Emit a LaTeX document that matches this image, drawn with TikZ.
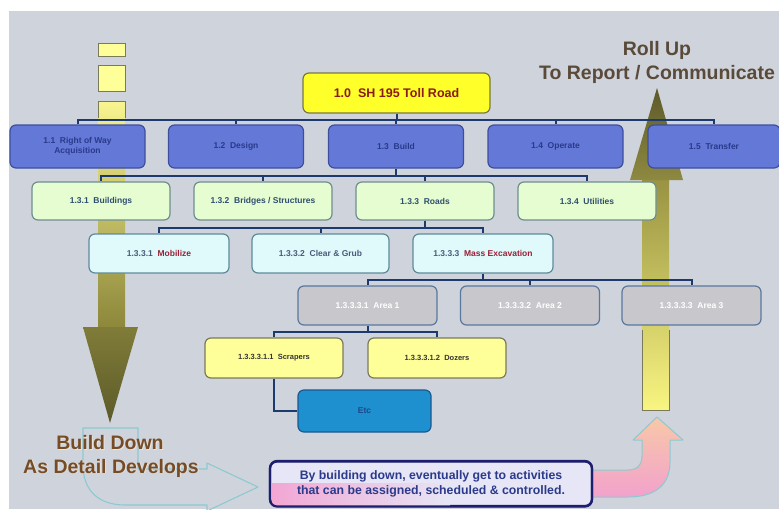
\documentclass[tikz,border=0pt]{standalone}
\usepackage{fontspec}
\setmainfont{Liberation Sans}

\definecolor{bgGray}{HTML}{CFD3DC}
\definecolor{rootFill}{HTML}{FFFF2A}
\definecolor{rootEdge}{HTML}{7A7A40}
\definecolor{rootText}{HTML}{8B1A1A}
\definecolor{blueFill}{HTML}{6478D8}
\definecolor{blueEdge}{HTML}{3E4E9E}
\definecolor{blueText}{HTML}{2A3A8A}
\definecolor{greenFill}{HTML}{E6FDD2}
\definecolor{greenEdge}{HTML}{6E8E90}
\definecolor{greenText}{HTML}{2F4F6F}
\definecolor{cyanFill}{HTML}{E0FAFC}
\definecolor{cyanEdge}{HTML}{5E8A9A}
\definecolor{numText}{HTML}{4A5A7A}
\definecolor{wordRed}{HTML}{9A2038}
\definecolor{grayFill}{HTML}{C8C8CC}
\definecolor{grayEdge}{HTML}{5878A0}
\definecolor{paleYellow}{HTML}{FFFF99}
\definecolor{paleEdge}{HTML}{7A7A5A}
\definecolor{etcFill}{HTML}{1E90D0}
\definecolor{etcEdge}{HTML}{1A5A90}
\definecolor{etcText}{HTML}{1A4A8A}
\definecolor{linkBlue}{HTML}{1C3A6E}
\definecolor{noteEdge}{HTML}{1E1E6E}
\definecolor{noteFill}{HTML}{E6E6F6}
\definecolor{noteText}{HTML}{2B3A8A}
\definecolor{notePink}{HTML}{F2A6D4}
\definecolor{tealLine}{HTML}{8CCAD2}
\definecolor{brownText}{HTML}{764C26}
\definecolor{rollText}{HTML}{5A4A3A}
\definecolor{shaftTop}{HTML}{F8F490}
\definecolor{shaftMid}{HTML}{C8BF60}
\definecolor{shaftLow}{HTML}{8C873A}
\definecolor{headLight}{HTML}{807C38}
\definecolor{headDark}{HTML}{5C5A2A}
\definecolor{pinkArrow}{HTML}{F2A2CC}
\definecolor{peachArrow}{HTML}{F8C8A8}

\pgfdeclarelayer{arrows}
\pgfdeclarelayer{links}
\pgfsetlayers{arrows,links,main}

\begin{document}
\begin{tikzpicture}[x=1pt,y=-1pt,
  box/.style={draw, rounded corners=6pt, line width=1.2pt, inner sep=0pt,
    align=center, font=\fontsize{8.5}{10}\selectfont\bfseries},
  rootbox/.style={box, fill=rootFill, draw=rootEdge, text=rootText,
    minimum width=187pt, minimum height=40pt, font=\fontsize{12.5}{14}\selectfont\bfseries},
  lvlone/.style={box, fill=blueFill, draw=blueEdge, text=blueText,
    minimum width=135pt, minimum height=43pt},
  lvltwo/.style={box, fill=greenFill, draw=greenEdge, text=greenText,
    minimum width=138pt, minimum height=38pt},
  lvlthree/.style={box, fill=cyanFill, draw=cyanEdge, text=numText,
    minimum width=140pt, minimum height=39pt},
  lvlfour/.style={box, fill=grayFill, draw=grayEdge, text=white,
    minimum width=139pt, minimum height=39pt},
  lvlfive/.style={box, fill=paleYellow, draw=paleEdge, text=black!80,
    minimum width=138pt, minimum height=40pt, font=\fontsize{7.5}{9}\selectfont\bfseries},
  etcbox/.style={box, fill=etcFill, draw=etcEdge, text=etcText,
    minimum width=133pt, minimum height=42pt},
  notebox/.style={draw=noteEdge, line width=2.2pt, rounded corners=7pt,
    minimum width=322pt, minimum height=45pt, inner sep=0pt, align=center,
    text=noteText, font=\fontsize{12.3}{15}\selectfont\bfseries},
  link/.style={draw=linkBlue, line width=2pt},
  bigtext/.style={font=\fontsize{19.5}{22}\selectfont\bfseries, inner sep=0pt},
]
% canvas
\useasboundingbox (0,0) rectangle (779,509);

\begin{pgfonlayer}{arrows}
\fill[white] (0,0) rectangle (779,509);
\fill[bgGray] (9,11) rectangle (779,509);

% build-down arrow: stacked squares, shaft and head
\filldraw[fill=paleYellow, draw=paleEdge, line width=0.8pt] (98,43) rectangle (125,56);
\filldraw[fill=paleYellow, draw=paleEdge, line width=0.8pt] (98,65) rectangle (125,91);
\shade[top color=shaftTop, middle color=shaftMid, bottom color=shaftLow] (98,101) rectangle (125,328);
\draw[paleEdge, line width=0.8pt] (98,118) -- (98,101) -- (125,101) -- (125,118);
\shade[top color=headLight, bottom color=headDark] (83,327) -- (138,327) -- (110,423) -- cycle;

% roll-up arrow: shaft and head
\shade[top color=shaftLow!80!shaftMid, middle color=shaftMid!70!shaftTop, bottom color=shaftTop!90!yellow] (642,178) rectangle (669,410);
\draw[paleEdge, line width=0.8pt] (642,330) -- (642,410) -- (669,410) -- (669,330);
\shade[top color=headDark, bottom color=headLight!80!shaftMid] (630,180) -- (683,180) -- (657,88) -- cycle;
\end{pgfonlayer}

% bar levels
\coordinate (b1) at (0,120);
\coordinate (b2) at (0,176);
\coordinate (b3) at (0,228);
\coordinate (b4) at (0,280);
\coordinate (b5) at (0,332);

% work breakdown boxes
\node[rootbox] (root) at (396.5,93) {1.0\ \ SH 195 Toll Road};

\node[lvlone] (n11) at (77.5,146.5) {1.1\ \ Right of Way\\Acquisition};
\node[lvlone] (n12) at (236,146.5) {1.2\ \ Design};
\node[lvlone] (n13) at (396,146.5) {1.3\ \ Build};
\node[lvlone] (n14) at (555.5,146.5) {1.4\ \ Operate};
\node[lvlone, minimum width=132pt] (n15) at (714,146.5) {1.5\ \ Transfer};

\node[lvltwo] (n131) at (101,201) {1.3.1\ \ Buildings};
\node[lvltwo] (n132) at (263,201) {1.3.2\ \ Bridges / Structures};
\node[lvltwo] (n133) at (425,201) {1.3.3\ \ Roads};
\node[lvltwo] (n134) at (587,201) {1.3.4\ \ Utilities};

\node[lvlthree] (m1) at (159,253.5) {1.3.3.1\ \ {\color{wordRed}Mobilize}};
\node[lvlthree, minimum width=137pt] (m2) at (320.5,253.5) {1.3.3.2\ \ Clear \& Grub};
\node[lvlthree] (m3) at (483,253.5) {1.3.3.3\ \ {\color{wordRed}Mass Excavation}};

\node[lvlfour] (g1) at (367.5,305.5) {1.3.3.3.1\ \ Area 1};
\node[lvlfour] (g2) at (530,305.5) {1.3.3.3.2\ \ Area 2};
\node[lvlfour] (g3) at (691.5,305.5) {1.3.3.3.3\ \ Area 3};

\node[lvlfive] (scr) at (274,358) {1.3.3.3.1.1\ \ Scrapers};
\node[lvlfive] (doz) at (437,358) {1.3.3.3.1.2\ \ Dozers};

\node[etcbox] (etc) at (364.5,411) {Etc};

% tree connectors, kept beneath the boxes
\begin{pgfonlayer}{links}
\foreach \c in {n11,n12,n13,n14,n15}
  \draw[link] (root.south) -- (root.south |- b1) -| (\c.north);
\foreach \c in {n131,n132,n133,n134}
  \draw[link] (n13.south) -- (n13.south |- b2) -| (\c.north);
\foreach \c in {m1,m2,m3}
  \draw[link] (n133.south) -- (n133.south |- b3) -| (\c.north);
\foreach \c in {g1,g2,g3}
  \draw[link] (m3.south) -- (m3.south |- b4) -| (\c.north);
\foreach \c in {scr,doz}
  \draw[link] (g1.south) -- (g1.south |- b5) -| (\c.north);
\draw[link] (scr.south) |- (etc.west);
\end{pgfonlayer}

% outlined bent arrow leading into the note
\draw[tealLine, line width=1.1pt, line join=round]
  (83,428) -- (138,428) -- (138,469) -- (207,469) -- (207,463) -- (258,487)
  -- (207,511) -- (207,505) -- (125,505) .. controls (98,505) and (83,490) .. (83,465) -- cycle;

% pink bent arrow from the note up to the roll-up shaft
\shade[top color=peachArrow, bottom color=pinkArrow, line join=round]
  (592,470) -- (628,470) .. controls (637,470) and (642,465) .. (642,456) -- (642,440)
  -- (633,440) -- (657,417) -- (683,440) -- (670,440) -- (670,462)
  .. controls (670,485) and (655,497) .. (628,497) -- (592,497) -- cycle;
\draw[tealLine, line width=1pt, line join=round]
  (592,470) -- (628,470) .. controls (637,470) and (642,465) .. (642,456) -- (642,440)
  -- (633,440) -- (657,417) -- (683,440) -- (670,440) -- (670,462)
  .. controls (670,485) and (655,497) .. (628,497) -- (592,497);

% note box with its pink highlight
\node[notebox, fill=noteFill] (note) at (431,483.5) {};
\begin{scope}
  \clip[rounded corners=7pt] (note.south west) rectangle (note.north east);
  \shade[left color=notePink, right color=noteFill] (272,483) rectangle (450,506);
\end{scope}
\node[notebox, fill=none] (notetext) at (431,484)
  {By building down, eventually get to activities\\that can be assigned, scheduled \& controlled.};

% captions
\node[bigtext, text=white!85!brownText] at (111,443.8) {Build Down};
\node[bigtext, text=brownText] (bd) at (110,443) {Build Down};
\node[bigtext, text=white!85!brownText] at (112,468.8) {As Detail Develops};
\node[bigtext, text=brownText] (ad) at (111,468) {As Detail Develops};

\node[bigtext, text=rollText] (ru) at (657,50) {Roll Up};
\node[bigtext, text=rollText] (rc) at (657,74) {To Report / Communicate};
\end{tikzpicture}
\end{document}
